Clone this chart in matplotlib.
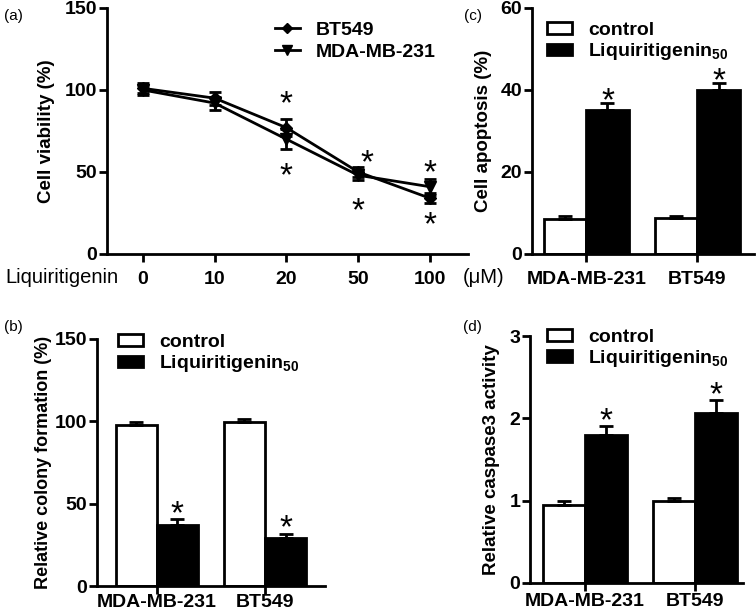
import numpy as np
import matplotlib.pyplot as plt
from matplotlib.patches import Patch
from matplotlib.lines import Line2D

plt.rcParams['font.family'] = ['Liberation Sans', 'DejaVu Sans']
plt.rcParams['mathtext.fontset'] = 'custom'
plt.rcParams['mathtext.bf'] = 'Liberation Sans:bold'
plt.rcParams['mathtext.rm'] = 'Liberation Sans:bold'

# (a) viability
doses = ['0', '10', '20', '50', '100']
bt549_via = [101, 95, 77, 50, 34]
bt549_err = [3, 4, 5, 3, 3]
mda_via = [100, 92, 70, 48, 41]
mda_err = [3, 4, 6, 3, 5]

groups = ['MDA-MB-231', 'BT549']
# (b) colony formation
colony_ctrl = [97.5, 99.5]
colony_ctrl_err = [2.0, 2.2]
colony_lig = [36.8, 29.3]
colony_lig_err = [3.7, 2.3]
# (c) apoptosis
apo_ctrl = [8.5, 8.7]
apo_ctrl_err = [0.8, 0.6]
apo_lig = [35.2, 40.0]
apo_lig_err = [1.5, 1.6]
# (d) caspase3
casp_ctrl = [0.95, 0.99]
casp_ctrl_err = [0.05, 0.04]
casp_lig = [1.80, 2.07]
casp_lig_err = [0.11, 0.15]

lig_label = r'Liquiritigenin$_{\mathbf{50}}$'
TICK = 14
STAR = 24

fig = plt.figure(figsize=(7.56, 6.16), dpi=100)


def style_axes(ax, yticks, xticks, xlabels, xpad):
    for s in ['top', 'right']:
        ax.spines[s].set_visible(False)
    for s in ['left', 'bottom']:
        ax.spines[s].set_linewidth(2)
    ax.tick_params(width=2, length=6, direction='out')
    ax.tick_params(axis='y', pad=1)
    ax.tick_params(axis='x', pad=xpad)
    ax.set_yticks(yticks, [str(t) for t in yticks], fontsize=TICK, fontweight='bold')
    ax.set_xticks(xticks, xlabels, fontsize=TICK, fontweight='bold')


def star(ax, x, y):
    # asterisk glyph sits high in its box, so nudge it down a bit
    ax.annotate('*', (x, y), xytext=(0, -6), textcoords='offset points',
                fontsize=STAR, ha='center', va='center')


# panel (a)
ax = fig.add_axes([0.1415, 0.5877, 0.4775, 0.3994])
x = np.arange(len(doses))
ax.errorbar(x, bt549_via, yerr=bt549_err, color='black', lw=2, marker='D', ms=6,
            capsize=4, capthick=2, elinewidth=2)
ax.errorbar(x, mda_via, yerr=mda_err, color='black', lw=2, marker='v', ms=8,
            capsize=4, capthick=2, elinewidth=2)
ax.set_xlim(-0.5, 4.53)
ax.set_ylim(0, 150)
style_axes(ax, [0, 50, 100, 150], x, doses, 6)
ax.set_ylabel('Cell viability (%)', fontsize=13.5, fontweight='bold', labelpad=7)
top = np.maximum(np.array(bt549_via) + bt549_err, np.array(mda_via) + mda_err)
bot = np.minimum(np.array(bt549_via) - bt549_err, np.array(mda_via) - mda_err)
for i, dx, up, dn in [(2, 0, 14, 12), (3, 0.12, 7, 14), (4, 0, 8, 9)]:
    star(ax, i + dx, top[i] + up)
    star(ax, i, bot[i] - dn)
fig.text(0.007, 0.55, 'Liquiritigenin', fontsize=14.5, va='center')
fig.text(0.612, 0.55, '(μM)', fontsize=14.5, va='center')
leg_h = [Line2D([], [], color='black', lw=2, marker='D', ms=5),
         Line2D([], [], color='black', lw=2, marker='v', ms=7)]
ax.legend(leg_h, ['BT549', 'MDA-MB-231'], loc='upper left', bbox_to_anchor=(0.465, 0.947),
          frameon=False, prop={'weight': 'bold', 'size': 14}, handlelength=1.3,
          handletextpad=0.82, labelspacing=0.25, borderaxespad=0, borderpad=0)


def bar_panel(rect, ctrl, ctrl_err, lig, lig_err, ylim, yticks, ylabel, xlim, legend_anchor,
              star_off, pad, xpad, ylsize=13.5):
    ax = fig.add_axes(rect)
    gx = np.arange(len(groups))
    w = 0.38
    ax.bar(gx - w / 2, ctrl, w, color='white', edgecolor='black', lw=2,
           yerr=[np.zeros(len(ctrl)), ctrl_err], capsize=5,
           error_kw={'elinewidth': 2, 'capthick': 2})
    ax.bar(gx + w / 2, lig, w, color='black', edgecolor='black', lw=2,
           yerr=[np.zeros(len(lig)), lig_err], capsize=5,
           error_kw={'elinewidth': 2, 'capthick': 2})
    for i in range(len(groups)):
        star(ax, gx[i] + w / 2, lig[i] + lig_err[i] + star_off)
    ax.set_xlim(*xlim)
    ax.set_ylim(*ylim)
    style_axes(ax, yticks, gx, groups, xpad)
    ax.set_ylabel(ylabel, fontsize=ylsize, fontweight='bold', labelpad=pad)
    handles = [Patch(facecolor='white', edgecolor='black', lw=2),
               Patch(facecolor='black', edgecolor='black', lw=2)]
    ax.legend(handles, ['control', lig_label], loc='upper left', bbox_to_anchor=legend_anchor,
              frameon=False, prop={'weight': 'bold', 'size': 14}, handlelength=1.3,
              handleheight=0.55, handletextpad=0.82, labelspacing=0.12, borderaxespad=0,
              borderpad=0)
    return ax


bar_panel([0.7037, 0.5877, 0.2937, 0.3994], apo_ctrl, apo_ctrl_err, apo_lig, apo_lig_err,
          (0, 60), [0, 20, 40, 60], 'Cell apoptosis (%)', (-0.49, 1.51), (0.068, 0.943), 2.5, 6, 6)
bar_panel([0.128, 0.0487, 0.302, 0.401], colony_ctrl, colony_ctrl_err, colony_lig, colony_lig_err,
          (0, 150), [0, 50, 100, 150], 'Relative colony formation (%)', (-0.556, 1.556),
          (0.092, 1.02), 8, 2, 0, 13)
bar_panel([0.701, 0.0536, 0.282, 0.4009], casp_ctrl, casp_ctrl_err, casp_lig, casp_lig_err,
          (0, 3), [0, 1, 2, 3], 'Relative caspase3 activity', (-0.5, 1.44), (0.08, 1.03), 0.15, 7, 1)

fig.text(0.005, 0.985, '(a)', fontsize=11, va='top')
fig.text(0.614, 0.985, '(c)', fontsize=11, va='top')
fig.text(0.005, 0.48, '(b)', fontsize=11, va='top')
fig.text(0.612, 0.48, '(d)', fontsize=11, va='top')

fig.savefig('out.png', dpi=100)
